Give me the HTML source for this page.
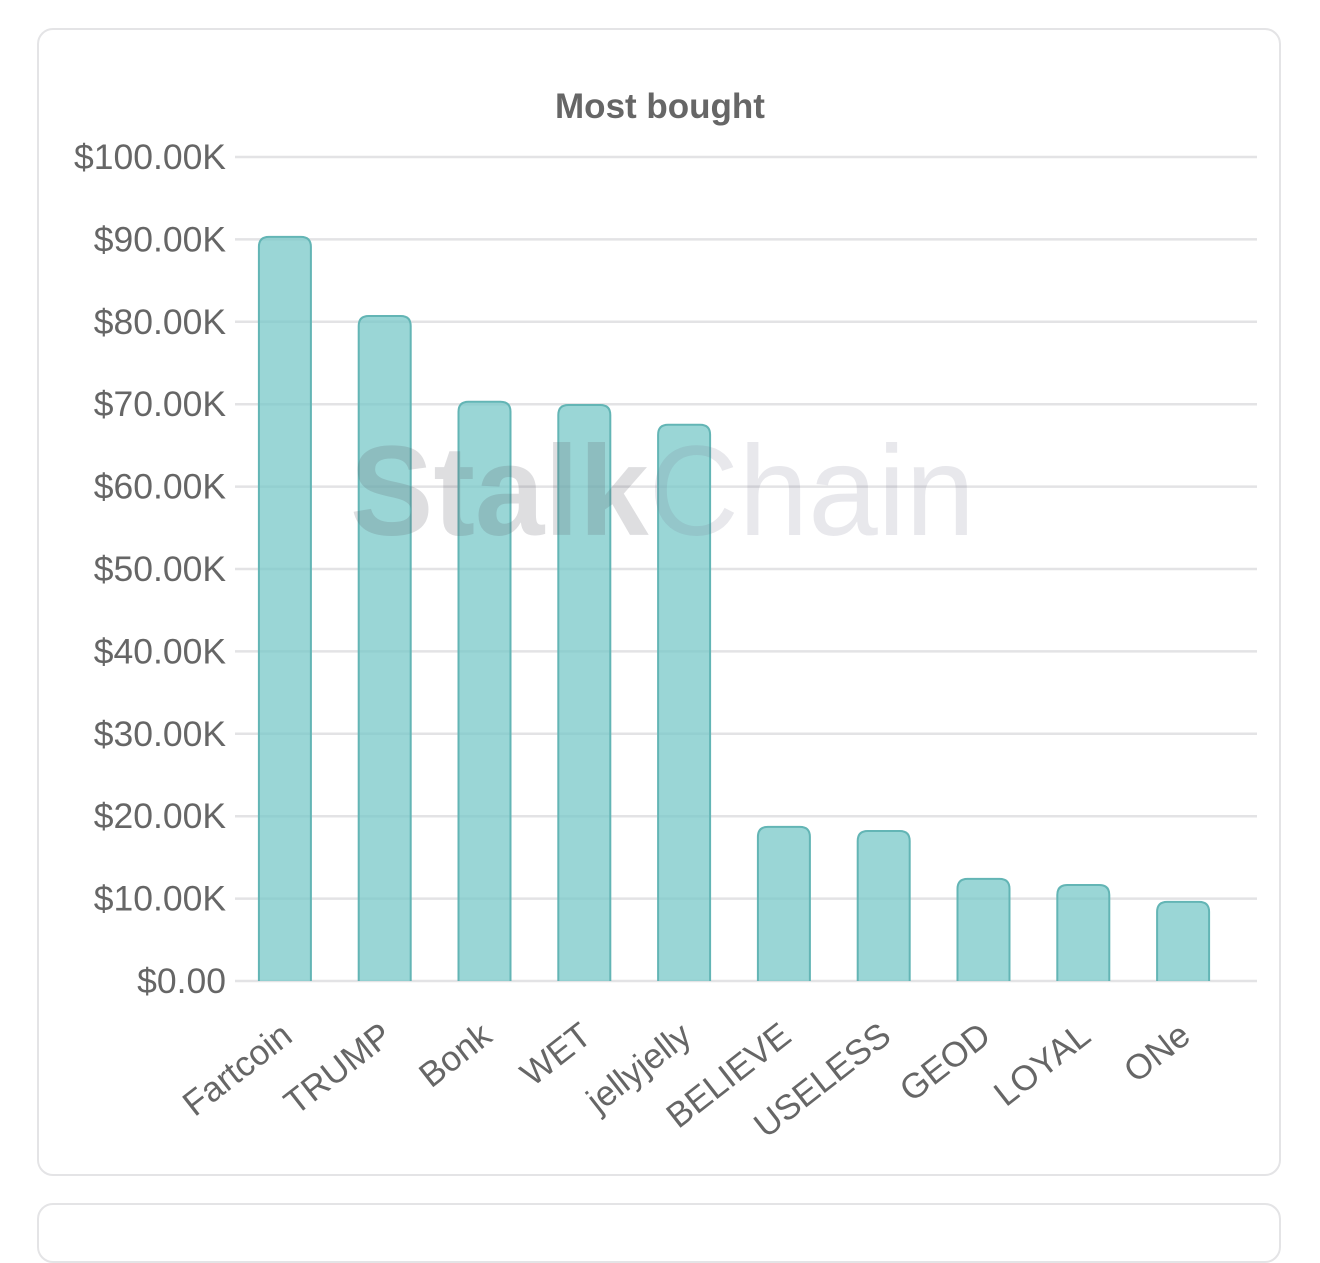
<!DOCTYPE html>
<html><head><meta charset="utf-8"><style>
html,body{margin:0;padding:0;background:#fff;width:1320px;height:1209px;overflow:hidden;font-family:"Liberation Sans",sans-serif}
.card{position:absolute;left:37px;top:28px;width:1244px;height:1148px;border:2px solid #e4e4e6;border-radius:16px;box-sizing:border-box}
.card2{position:absolute;left:37px;top:1203px;width:1244px;height:60px;border:2px solid #e4e4e6;border-radius:16px;box-sizing:border-box}
svg{position:absolute;left:0;top:0}
</style></head><body>
<div class="card"></div>
<div class="card2"></div>
<svg id="chart" width="1320" height="1209"></svg>
<script>
const categories=["Fartcoin","TRUMP","Bonk","WET","jellyjelly","BELIEVE","USELESS","GEOD","LOYAL","ONe"];
const values=[90.3,80.7,70.3,69.9,67.5,18.7,18.2,12.4,11.65,9.6];
const ticks=[0,10,20,30,40,50,60,70,80,90,100];
const tickLabels=["$0.00","$10.00K","$20.00K","$30.00K","$40.00K","$50.00K","$60.00K","$70.00K","$80.00K","$90.00K","$100.00K"];
const NS="http://www.w3.org/2000/svg",svg=document.getElementById('chart');
const x0=235,band=99.8,gridEnd=1257,yBase=981,yTop=157,barW=52;
const y=v=>yBase-(v/100)*(yBase-yTop);
const xc=i=>x0+band*(i+0.5);
function mk(t,a,p){const e=document.createElementNS(NS,t);for(const k in a)e.setAttribute(k,a[k]);(p||svg).appendChild(e);return e;}
let t=mk('text',{x:660,y:118,'text-anchor':'middle','font-size':35,'font-weight':'bold',fill:'#666'});t.textContent='Most bought';


ticks.forEach((v,i)=>{
 const l=mk('line',{x1:x0,x2:gridEnd,y1:y(v),y2:y(v),stroke:'#e3e3e5','stroke-width':2.5});
 
 
 const tx=mk('text',{x:226,y:y(v)+12,'text-anchor':'end','font-size':35.5,fill:'#666'});tx.textContent=tickLabels[i];
 
 
});
values.forEach((v,i)=>{
 const x=xc(i)-barW/2,top=y(v),h=yBase-top,r=10;
 const d=`M${x},${yBase} L${x},${top+r} Q${x},${top} ${x+r},${top} L${x+barW-r},${top} Q${x+barW},${top} ${x+barW},${top+r} L${x+barW},${yBase}`;
 const p=mk('path',{d,fill:'rgba(120,200,200,0.75)',stroke:'#63b5b5','stroke-width':2});
 
 
 const g=mk('g',{transform:`translate(${xc(i)-6},${1020}) rotate(-38)`});
 const lb=mk('text',{x:0,y:25,'text-anchor':'end','font-size':35,fill:'#666'},g);lb.textContent=categories[i];
 
 
});
const wm=mk('text',{x:350,y:535,'font-size':128,textLength:625,lengthAdjust:'spacingAndGlyphs'});


const s1=mk('tspan',{'font-weight':'bold',fill:'rgba(90,90,100,0.2)'},wm);s1.textContent='Stalk';
const s2=mk('tspan',{fill:'rgba(120,120,140,0.17)'},wm);s2.textContent='Chain';
</script>
</body></html>
